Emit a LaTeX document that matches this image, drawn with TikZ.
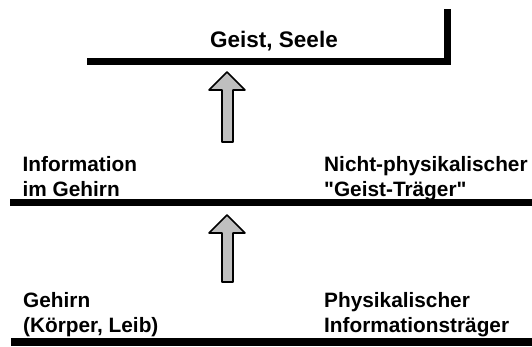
\documentclass[tikz,border=0pt]{standalone}
\usepackage{fontspec}
\newfontfamily\levfont{Liberation Sans}
\usepackage{tikz}

\tikzset{
  layer/.style={line width=7.5pt, line join=miter},
  blockarrow/.style={draw=black, line width=1.6pt, fill=gray!50, line join=round},
  levtext/.style={font=\levfont\fontsize{20.8}{25}\selectfont\bfseries, align=left, anchor=north west, inner sep=0pt}
}

\begin{document}
\begin{tikzpicture}[x=1pt,y=-1pt]
                \useasboundingbox (0,0) rectangle (532,346);
                % Ebenen
                \draw[layer] (87,61.5) -- (447.5,61.5) -- (447.5,9);
                \draw[layer] (10,202.5) -- (532,202.5);
                \draw[layer] (11,342) -- (532,342);
                % Pfeile
                \draw[blockarrow] (227,72) -- (245,90) -- (233,90) -- (233,142) -- (222,142) -- (222,90) -- (209,90) -- cycle;
                \draw[blockarrow] (227,215) -- (245,233) -- (233,233) -- (233,282) -- (222,282) -- (222,233) -- (209,233) -- cycle;
                % Texte
                \node[levtext, font=\levfont\fontsize{22.5}{26}\selectfont\bfseries, anchor=base] (geist) at (274,47) {Geist, Seele};
                \node[levtext] (info) at (22.5,156) {Information\\im Gehirn};
                \node[levtext] (traeger) at (324,156) {Nicht-physikalischer\\"Geist-Träger"};
                \node[levtext] (gehirn) at (23,292) {Gehirn\\(Körper, Leib)};
                \node[levtext] (physik) at (324,292) {Physikalischer\\Informationsträger};
            \end{tikzpicture}
\end{document}
